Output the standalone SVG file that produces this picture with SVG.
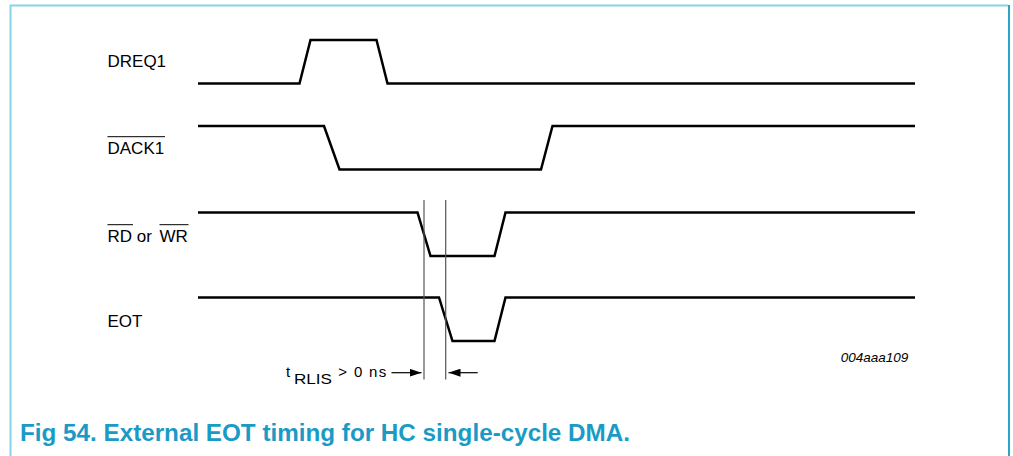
<svg xmlns="http://www.w3.org/2000/svg" width="1013" height="456" viewBox="0 0 1013 456">
<style>
.sig{fill:none;stroke:#000;stroke-width:2.5;stroke-linejoin:miter}
.lbl{font-family:"Liberation Sans",Arial,sans-serif;font-size:17px;fill:#000}
.ovl{stroke:#000;stroke-width:1}
.ref{stroke:#555;stroke-width:1.2}
.dim{stroke:#000;stroke-width:1.2}
.small{font-family:"Liberation Sans",Arial,sans-serif;fill:#000}
</style>
<defs>
<marker id="ah" viewBox="0 0 12 8" refX="12" refY="4" markerWidth="12" markerHeight="8" markerUnits="userSpaceOnUse" orient="auto">
<path d="M0,0 L12,4 L0,8 Z" fill="#000"/>
</marker>
</defs>
<rect width="1013" height="456" fill="#fff"/>
<g id="frame">
<path d="M10.5,456 V5.5 H1008" fill="none" stroke="#86d4e8" stroke-width="2"/>
<path d="M1009,5 V456" fill="none" stroke="#2ea3c9" stroke-width="2"/>
</g>
<g id="DREQ1">
<text class="lbl" x="107.5" y="66.5">DREQ1</text>
<path class="sig" d="M198,83.5 H299.5 L310.5,40 H376.5 L387.5,83.5 H915"/>
</g>
<g id="DACK1">
<text class="lbl" x="107.5" y="154">DACK1</text>
<line class="ovl" x1="107.5" y1="136.7" x2="165" y2="136.7"/>
<path class="sig" d="M198,126 H324 L339.5,169.5 H541 L552.5,126 H915"/>
</g>
<g id="RDWR">
<text class="lbl" x="107.5" y="242.3">RD or <tspan x="159.5">WR</tspan></text>
<line class="ovl" x1="107.5" y1="224.7" x2="133" y2="224.7"/>
<line class="ovl" x1="159.5" y1="224.7" x2="188.5" y2="224.7"/>
<path class="sig" d="M198,212.5 H417.5 L430.5,256 H494.5 L505.5,212.5 H915"/>
</g>
<g id="EOT">
<text class="lbl" x="107.5" y="326.7">EOT</text>
<path class="sig" d="M198,297.5 H439 L452.5,341 H494.5 L505.5,297.5 H915"/>
</g>
<g id="connectors">
<line class="ref" x1="424" y1="200" x2="424" y2="379.5"/>
<line class="ref" x1="445.7" y1="200" x2="445.7" y2="379.5"/>
<line class="dim" x1="391.5" y1="372.7" x2="421.5" y2="372.7" marker-end="url(#ah)"/>
<line class="dim" x1="477.7" y1="372.7" x2="448.5" y2="372.7" marker-end="url(#ah)"/>
</g>
<g id="tRLIS">
<text class="small" x="286" y="376.6" font-size="15">t</text>
<text class="small" x="294" y="384" font-size="15" textLength="38" lengthAdjust="spacingAndGlyphs">RLIS</text>
<text class="small" x="338.3" y="376.6" font-size="15" textLength="48" lengthAdjust="spacing">&gt; 0 ns</text>
</g>
<text class="small" x="840.7" y="362.3" font-size="13.5" font-style="italic">004aaa109</text>
<text x="20" y="440.5" font-family="'Liberation Sans',Arial,sans-serif" font-weight="bold" font-size="23.5" fill="#1a9bc6" textLength="610" lengthAdjust="spacingAndGlyphs">Fig 54. External EOT timing for HC single-cycle DMA.</text>
</svg>
